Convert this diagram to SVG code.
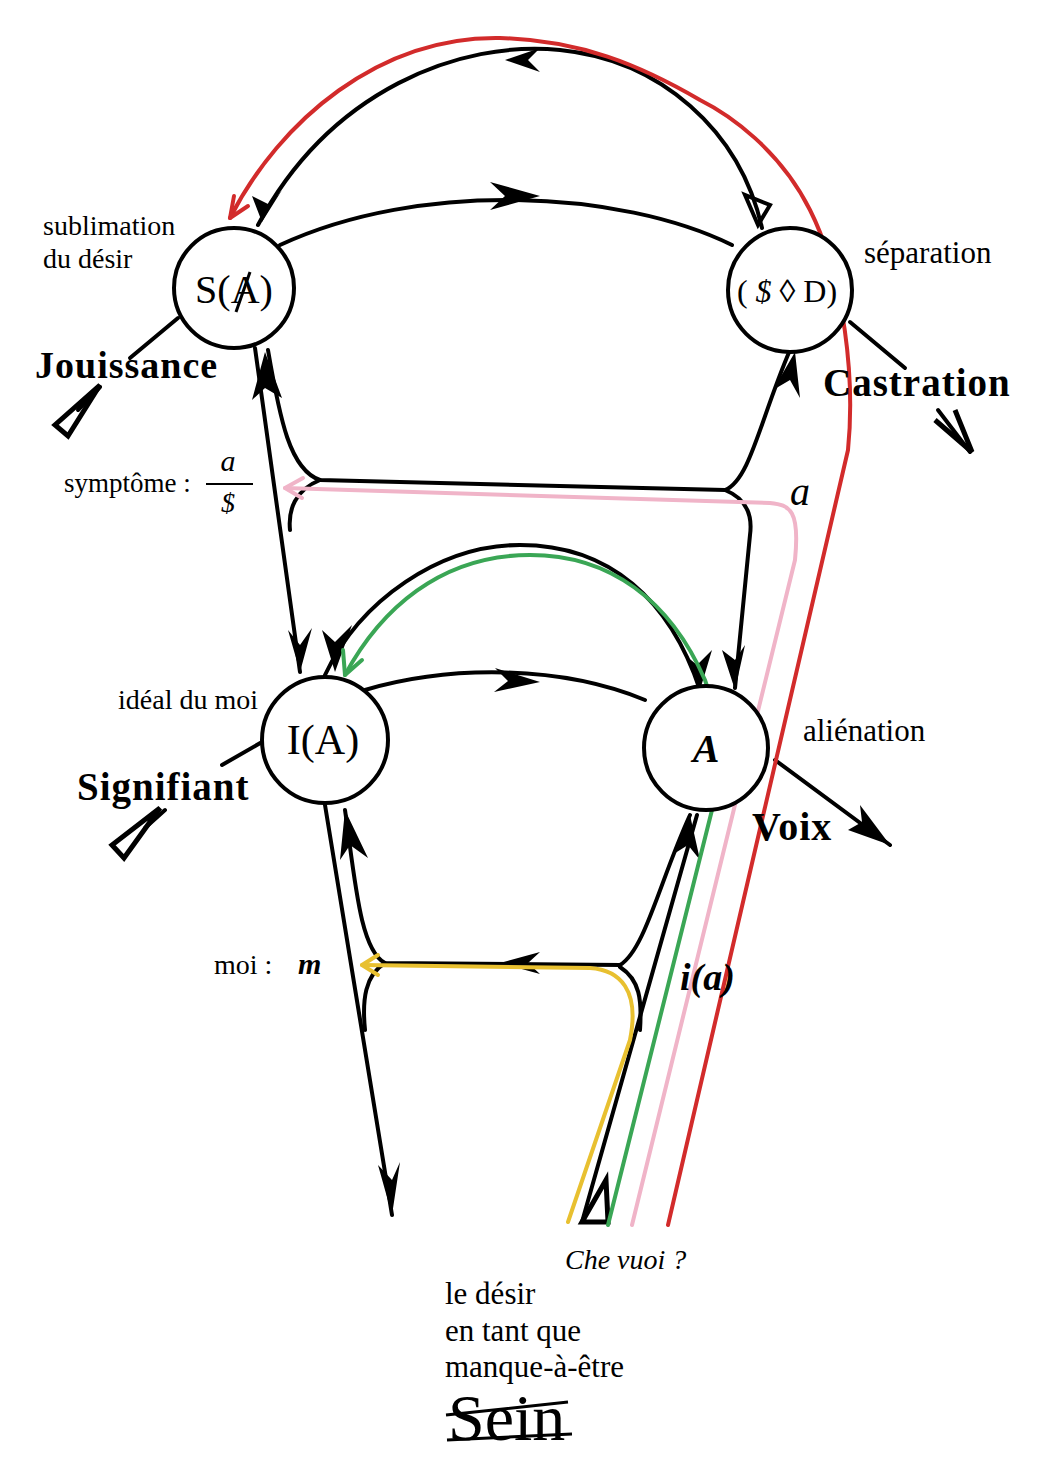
<svg xmlns="http://www.w3.org/2000/svg" width="1049" height="1469" viewBox="0 0 1049 1469">
<style>
.l{fill:none;stroke:#000;stroke-width:4;stroke-linecap:round}
.n{fill:#fff;stroke:#000;stroke-width:4}
.t{font-family:"Liberation Serif",serif;fill:#000}
.b{font-family:"Liberation Serif",serif;font-weight:bold;fill:#000;letter-spacing:1px}
.c{fill:none;stroke-width:4;stroke-linecap:round;stroke-linejoin:round}
</style>
<rect width="1049" height="1469" fill="#fff"/>
<g id="connectors">
<path class="l" d="M258,225 C330,90 460,40 560,50 C660,60 740,130 762,228"/>
<path class="l" d="M280,245 C420,180 620,190 732,245"/>
<path class="l" d="M178,318 L130,358 M100,387 L78,410"/>
<path d="M100,385 L55,425 L68,436 Z" fill="none" stroke="#000" stroke-width="5"/>
<path class="l" d="M850,322 L905,368 M938,410 L970,452"/>
<path d="M935,420 L972,452 L955,410" fill="none" stroke="#000" stroke-width="5"/>
<path class="l" d="M255,348 L300,672"/>
<path class="l" d="M268,350 C280,420 290,470 320,480 L725,490 C750,480 760,420 790,350"/>
<path class="l" d="M320,480 C295,490 288,510 290,530"/>
<path class="l" d="M725,490 C750,500 752,520 750,535 L735,688"/>
<path class="l" d="M325,675 C360,600 440,545 520,545 C610,545 670,600 700,690"/>
<path class="l" d="M365,690 C450,665 560,665 645,700"/>
<path class="l" d="M262,742 L222,765 M165,810 L145,828"/>
<path d="M160,808 L112,845 L124,858 Z" fill="none" stroke="#000" stroke-width="5"/>
<path class="l" d="M775,760 L890,845"/>
<path class="l" d="M325,805 L392,1215"/>
<path class="l" d="M345,810 C355,880 360,950 385,963 L620,965 C645,950 660,880 690,815"/>
<path class="l" d="M385,963 C365,975 362,1000 365,1030"/>
<path class="l" d="M620,967 C640,980 642,1000 640,1030"/>
<path class="l" d="M582,1222 L697,815"/>
<path d="M582,1222 L606,1180 L608,1222 Z" fill="none" stroke="#000" stroke-width="5"/>
<g fill="#000">
<path d="M262,222 L252,196 L270,205 L282,190 Z"/>
<path d="M505,60 L540,48 L528,60 L540,72 Z"/>
<path d="M540,196 L490,182 L505,196 L490,210 Z"/>
<path d="M758,225 L745,195 L770,205 Z" fill="none" stroke="#000" stroke-width="4"/>
<path d="M265,352 L252,400 L265,388 L282,398 Z"/>
<path d="M300,672 L288,630 L300,645 L312,628 Z"/>
<path d="M795,352 L773,390 L790,380 L800,398 Z"/>
<path d="M735,690 L722,650 L735,660 L745,645 Z"/>
<path d="M335,672 L322,630 L335,642 L352,625 Z"/>
<path d="M700,690 L685,655 L697,665 L712,650 Z"/>
<path d="M540,682 L495,668 L508,681 L494,692 Z"/>
<path d="M890,845 L848,830 L862,822 L860,805 Z"/>
<path d="M392,1215 L378,1165 L392,1180 L400,1162 Z"/>
<path d="M345,810 L340,860 L350,845 L368,858 Z"/>
<path d="M690,815 L672,855 L688,845 L700,860 Z"/>
<path d="M500,963 L540,952 L528,963 L540,974 Z"/>
</g>
</g>
<g id="colored">
<path class="c" stroke="#d22b2b" d="M668,1225 L848,450 C855,380 845,280 810,210 C780,150 730,115 700,100 C640,65 580,40 500,38 C380,36 280,120 230,218"/>
<path class="c" stroke="#d22b2b" d="M230,218 L234,196 M230,218 L248,206"/>
<path class="c" stroke="#f0b4c8" d="M632,1225 L795,560 C800,510 790,505 770,503 L285,488"/>
<path class="c" stroke="#f0b4c8" d="M285,488 L303,478 M285,488 L302,498"/>
<path class="c" stroke="#3aa655" d="M608,1225 L712,810 C722,770 720,720 705,680 C670,600 610,555 530,555 C440,555 380,610 345,675"/>
<path class="c" stroke="#3aa655" d="M345,675 L343,650 M345,675 L362,660"/>
<path class="c" stroke="#e8c030" d="M568,1222 L630,1040 C640,990 620,970 590,968 L362,965"/>
<path class="c" stroke="#e8c030" d="M362,965 L378,955 M362,965 L378,975"/>
</g>
<g id="SA"><circle class="n" cx="234" cy="288" r="60"/><text class="t" x="234" y="303" font-size="40" text-anchor="middle">S(A)</text><path d="M236,312 L250,272" stroke="#000" stroke-width="3"/></g>
<g id="SD"><circle class="n" cx="790" cy="290" r="62"/><text class="t" x="787" y="302" font-size="32" text-anchor="middle">( <tspan font-style="italic">$</tspan> ◊ D)</text></g>
<g id="IA"><circle class="n" cx="325" cy="740" r="63"/><text class="t" x="323" y="754" font-size="42" text-anchor="middle">I(A)</text></g>
<g id="A"><circle class="n" cx="706" cy="748" r="62"/><text class="t" x="706" y="762" font-size="40" text-anchor="middle" font-weight="bold" font-style="italic">A</text></g>
<g id="labels">
<text class="t" x="43" y="235" font-size="28">sublimation</text>
<text class="t" x="43" y="268" font-size="28">du désir</text>
<text class="b" x="35" y="378" font-size="38">Jouissance</text>
<text class="t" x="864" y="263" font-size="31">séparation</text>
<text class="b" x="823" y="396" font-size="39">Castration</text>
<text class="t" x="64" y="492" font-size="27">symptôme :</text>
<text class="t" x="228" y="471" font-size="30" font-style="italic" text-anchor="middle">a</text>
<line x1="206" y1="484" x2="253" y2="484" stroke="#000" stroke-width="2"/>
<text class="t" x="228" y="512" font-size="28" font-style="italic" text-anchor="middle">$</text>
<text class="t" x="790" y="505" font-size="40" font-style="italic">a</text>
<text class="t" x="118" y="709" font-size="28">idéal du moi</text>
<text class="b" x="77" y="800" font-size="39">Signifiant</text>
<text class="t" x="803" y="741" font-size="31">aliénation</text>
<text class="b" x="752" y="840" font-size="40">Voix</text>
<text class="t" x="214" y="974" font-size="28">moi :</text>
<text class="t" x="298" y="974" font-size="30" font-style="italic" font-weight="bold">m</text>
<text class="t" x="680" y="990" font-size="38" font-style="italic" font-weight="bold">i(a)</text>
<text class="t" x="565" y="1269" font-size="28" font-style="italic">Che vuoi ?</text>
<text class="t" x="445" y="1304" font-size="31">le désir</text>
<text class="t" x="445" y="1341" font-size="31">en tant que</text>
<text class="t" x="445" y="1377" font-size="31">manque-à-être</text>
<text class="t" x="448" y="1440" font-size="66">Sein</text>
<path d="M446,1415 L568,1402 M447,1440 L572,1434" stroke="#000" stroke-width="3"/>
</g>
</svg>
